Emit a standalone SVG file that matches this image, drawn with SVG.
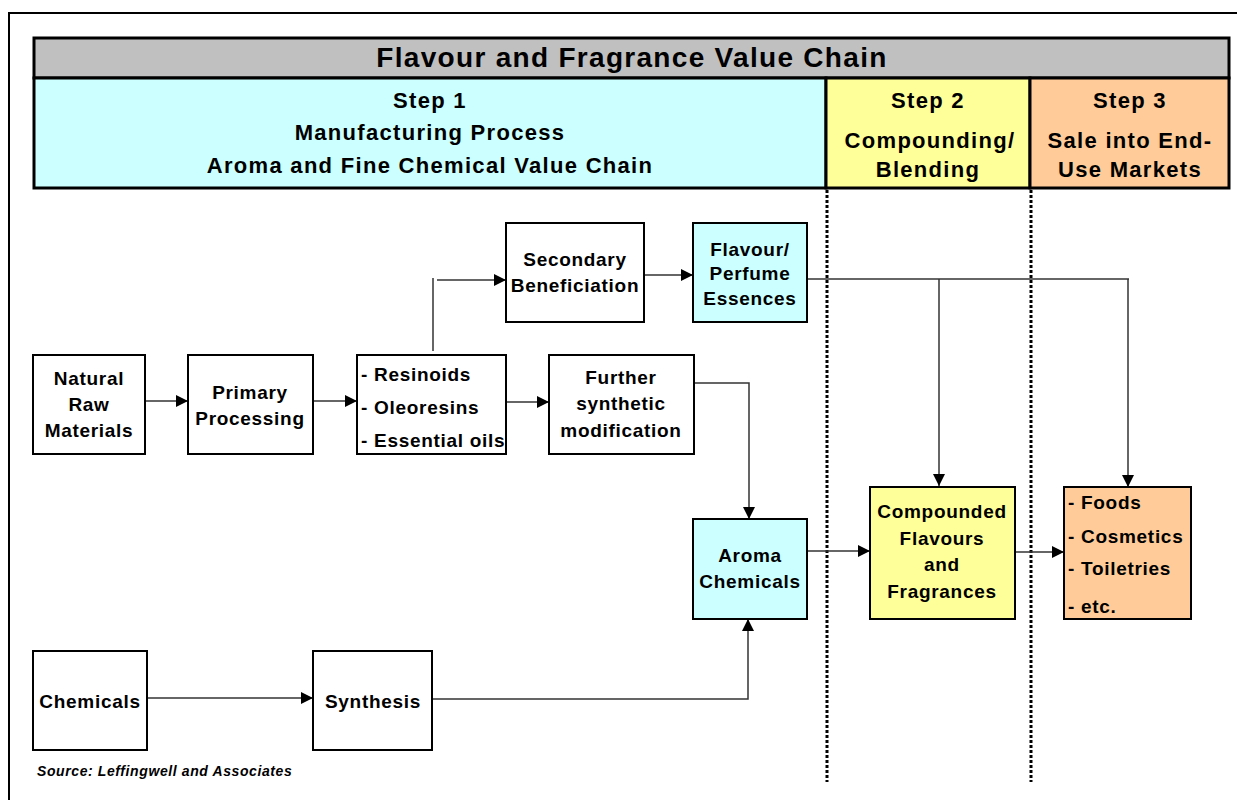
<svg xmlns="http://www.w3.org/2000/svg" width="1237" height="800" viewBox="0 0 1237 800">
<style>
text{font-family:"Liberation Sans",Arial,sans-serif;font-weight:bold;fill:#000}
.hdr{stroke:#000;stroke-width:3}
.box{stroke:#000;stroke-width:2;fill:#fff}
.cyan{fill:#CCFFFF}
.yel{fill:#FFFF99}
.org{fill:#FFCC99}
.t18{font-size:19px;letter-spacing:0.7px;text-anchor:middle}
.l18{font-size:19px;letter-spacing:0.7px}
.step{font-size:22px;letter-spacing:1.3px;text-anchor:middle}
.conn path{fill:none;stroke:#333;stroke-width:1.5}
.arr{marker-end:url(#ah)}
.dot{stroke:#000;stroke-width:3;stroke-dasharray:3 2;fill:none}
</style>
<defs>
<marker id="ah" viewBox="0 0 10 10" refX="10" refY="5" markerWidth="12" markerHeight="12" markerUnits="userSpaceOnUse" orient="auto">
<path d="M0,0 L10,5 L0,10 z" fill="#000"/>
</marker>
</defs>
<rect width="1237" height="800" fill="#fff"/>
<path d="M9,800 V13 H1237" fill="none" stroke="#000" stroke-width="2"/>

<g id="header">
<rect class="hdr" x="34" y="38" width="1195" height="40" fill="#C0C0C0"/>
<text x="632" y="67" style="font-size:28px;letter-spacing:1.3px;text-anchor:middle">Flavour and Fragrance Value Chain</text>
<rect class="hdr cyan" x="34" y="78" width="792" height="110"/>
<rect class="hdr yel" x="826" y="78" width="204" height="110"/>
<rect class="hdr org" x="1030" y="78" width="199" height="110"/>
<text class="step" x="430" y="108">Step 1</text>
<text class="step" x="430" y="140">Manufacturing Process</text>
<text class="step" x="430" y="173">Aroma and Fine Chemical Value Chain</text>
<text class="step" x="928" y="108">Step 2</text>
<text class="step" x="930" y="148">Compounding/</text>
<text class="step" x="928" y="177">Blending</text>
<text class="step" x="1130" y="108">Step 3</text>
<text class="step" x="1130" y="148">Sale into End-</text>
<text class="step" x="1130" y="177">Use Markets</text>
</g>

<g id="dividers">
<path class="dot" d="M827,190 V782"/>
<path class="dot" d="M1031,190 V782"/>
</g>

<g class="conn" id="connectors">
<path class="arr" d="M145,401 H188"/>
<path class="arr" d="M313,401 H357"/>
<path class="arr" d="M506,402 H549"/>
<path d="M433,351 V278"/>
<path class="arr" d="M437,280 H506"/>
<path class="arr" d="M644,275 H693"/>
<path d="M807,279 H1129"/>
<path class="arr" d="M939,279 V486"/>
<path class="arr" d="M1128,279 V487"/>
<path class="arr" d="M694,383 H749 V519"/>
<path class="arr" d="M147,698 H313"/>
<path class="arr" d="M432,699 H748 V619"/>
<path class="arr" d="M807,551 H870"/>
<path class="arr" d="M1015,552 H1064"/>
</g>

<g id="natural">
<rect class="box" x="33" y="355" width="112" height="99"/>
<text class="t18" x="89" y="385">Natural</text>
<text class="t18" x="89" y="411">Raw</text>
<text class="t18" x="89" y="437">Materials</text>
</g>
<g id="primary">
<rect class="box" x="188" y="355" width="125" height="99"/>
<text class="t18" x="250" y="399">Primary</text>
<text class="t18" x="250" y="425">Processing</text>
</g>
<g id="resinoids">
<rect class="box" x="357" y="355" width="149" height="99"/>
<text class="l18" x="361" y="381">- Resinoids</text>
<text class="l18" x="361" y="414">- Oleoresins</text>
<text class="l18" x="361" y="447">- Essential oils</text>
</g>
<g id="secondary">
<rect class="box" x="506" y="223" width="138" height="99"/>
<text class="t18" x="575" y="266">Secondary</text>
<text class="t18" x="575" y="292">Beneficiation</text>
</g>
<g id="essences">
<rect class="box cyan" x="693" y="223" width="114" height="99"/>
<text class="t18" x="750" y="256">Flavour/</text>
<text class="t18" x="750" y="280">Perfume</text>
<text class="t18" x="750" y="305">Essences</text>
</g>
<g id="further">
<rect class="box" x="549" y="355" width="145" height="99"/>
<text class="t18" x="621" y="384">Further</text>
<text class="t18" x="621" y="410">synthetic</text>
<text class="t18" x="621" y="437">modification</text>
</g>
<g id="aroma">
<rect class="box cyan" x="693" y="519" width="114" height="100"/>
<text class="t18" x="750" y="562">Aroma</text>
<text class="t18" x="750" y="588">Chemicals</text>
</g>
<g id="compounded">
<rect class="box yel" x="870" y="487" width="145" height="132"/>
<text class="t18" x="942" y="518">Compounded</text>
<text class="t18" x="942" y="545">Flavours</text>
<text class="t18" x="942" y="571">and</text>
<text class="t18" x="942" y="598">Fragrances</text>
</g>
<g id="markets">
<rect class="box org" x="1064" y="487" width="127" height="132"/>
<text class="l18" x="1068" y="509">- Foods</text>
<text class="l18" x="1068" y="543">- Cosmetics</text>
<text class="l18" x="1068" y="575">- Toiletries</text>
<text class="l18" x="1068" y="613">- etc.</text>
</g>
<g id="chemicals">
<rect class="box" x="33" y="651" width="114" height="99"/>
<text class="t18" x="90" y="708">Chemicals</text>
</g>
<g id="synthesis">
<rect class="box" x="313" y="651" width="119" height="99"/>
<text class="t18" x="373" y="708">Synthesis</text>
</g>
<text x="37" y="776" style="font-size:14px;font-style:italic;letter-spacing:0.6px">Source: Leffingwell and Associates</text>
</svg>
